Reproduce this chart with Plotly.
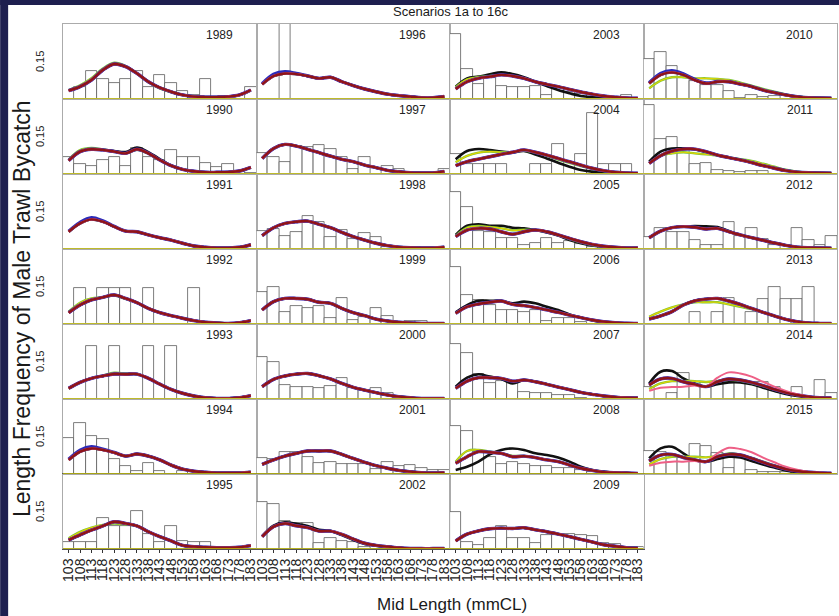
import plotly.graph_objects as go
from plotly.subplots import make_subplots

# ---------------- data ----------------
MIDS = [103, 108, 113, 118, 123, 128, 133, 138, 143, 148, 153, 158, 163, 168, 173, 178, 183]
TICK_LABELS = ["103", "108", "113", "118", "123", "128", "133", "138", "143",
               "148", "153", "158", "163", "168", "173", "178", "183"]
YEARS = [1989, 1990, 1991, 1992, 1993, 1994, 1995,
         1996, 1997, 1998, 1999, 2000, 2001, 2002,
         2003, 2004, 2005, 2006, 2007, 2008, 2009,
         2010, 2011, 2012, 2013, 2014, 2015]

# observed proportions (histogram bars)
OBS_1989 = [0, .055, .13, .092, .073, .092, .13, .055, .111, .073, .036, .017, .092, 0, 0, 0, .058]
OBS_1990 = [.081, .047, .039, .066, .081, .039, .12, .081, .066, .113, .081, .081, .05, .034, .047, .011, .006]
OBS_1991 = [0, 0, 0, 0, 0, 0, 0, 0, 0, 0, 0, 0, 0, 0, 0, 0, 0]
OBS_1992 = [0, .167, 0, .167, .167, .167, 0, .167, 0, 0, 0, .167, 0, 0, 0, 0, 0]
OBS_1993 = [0, 0, .25, 0, .25, 0, 0, .25, 0, .25, 0, 0, 0, 0, 0, 0, 0]
OBS_1994 = [.167, .238, .18, .163, .069, .038, .014, .05, .014, 0, .014, .014, 0, 0, 0, 0, 0]
OBS_1995 = [.031, .031, .031, .144, .108, .108, .18, .07, .034, .108, .039, .031, .031, 0, 0, 0, 0]
OBS_1996 = [0, 0, 1.0, 0, 0, 0, 0, 0, 0, 0, 0, 0, 0, 0, 0, 0, 0]
OBS_1997 = [.097, .078, .058, .131, .128, .136, .116, .078, .022, .078, 0, .039, .022, 0, 0, 0, .022]
OBS_1998 = [.086, .092, .063, .081, .156, .125, .055, .089, .047, .073, .055, .011, 0, 0, 0, 0, 0]
OBS_1999 = [.152, .172, .055, .086, .077, .086, .027, .123, .019, .034, .077, .039, 0, .016, .016, 0, 0]
OBS_2000 = [.198, .172, .066, .058, .058, .05, .063, .097, .053, .042, .053, .03, .011, 0, 0, 0, 0]
OBS_2001 = [.073, .07, .105, .105, .081, .05, .055, .045, .047, .047, .025, .055, .039, .042, .03, .019, .019]
OBS_2002 = [.222, .209, .13, .12, .12, .027, .05, .039, .031, .01, 0, 0, 0, 0, 0, 0, 0]
OBS_2003 = [.305, .139, .07, .097, .063, .058, .058, .063, .019, .05, .034, .023, 0, 0, 0, .019, 0]
OBS_2004 = [.094, .047, .047, .047, .047, 0, 0, .047, .047, .141, 0, .094, .284, .047, .047, .047, 0]
OBS_2005 = [.269, .195, .084, .081, .05, .05, .019, .027, .05, .027, .039, .022, .011, 0, 0, 0, 0]
OBS_2006 = [.269, .136, .113, .089, .066, .066, .058, .066, .016, .027, .027, .008, 0, 0, 0, 0, 0]
OBS_2007 = [.256, .214, .116, .073, .084, .081, .034, .03, .027, .019, .019, .006, 0, 0, 0, 0, 0]
OBS_2008 = [.227, .202, .105, .081, .045, .055, .045, .039, .039, .03, .03, .019, .008, 0, 0, 0, 0]
OBS_2009 = [.172, .034, .019, .05, .108, .05, .05, .027, .066, .066, .07, .066, .061, .03, .023, .011, .008]
OBS_2010 = [.186, .222, .156, .102, .086, .066, .066, .039, .003, .019, .011, .016, 0, 0, 0, 0, 0]
OBS_2011 = [.324, .164, .175, .12, .047, .053, .019, .014, .008, .014, .014, 0, 0, 0, 0, 0, 0]
OBS_2012 = [.058, .097, .081, .081, .042, .019, .019, .125, .061, .1, .047, .019, 0, .1, .042, .019, .061]
OBS_2013 = [0, 0, 0, 0, .055, 0, .055, .12, 0, .055, .117, .175, .117, .117, .175, 0, 0]
OBS_2014 = [.058, 0, .03, .12, .08, .08, .08, .08, .08, .08, .08, .058, 0, .058, 0, .089, .03]
OBS_2015 = [.11, .105, .09, .08, .14, .13, .1, .03, .075, .02, .01, .008, .008, .008, .005, .005, 0]

# fitted proportions (main scenario curve)
FIT_1989 = [.039, .058, .089, .136, .164, .152, .12, .081, .053, .034, .019, .011, .009, .009, .011, .019, .042]
FIT_1990 = [.063, .105, .116, .113, .105, .097, .116, .097, .066, .039, .022, .013, .008, .008, .009, .014, .031]
FIT_1991 = [.081, .12, .139, .128, .105, .084, .081, .066, .053, .042, .027, .014, .008, .005, .005, .008, .02]
FIT_1992 = [.053, .089, .113, .125, .136, .12, .1, .073, .053, .039, .027, .016, .008, .005, .003, .006, .016]
FIT_1993 = [.05, .078, .097, .108, .117, .116, .117, .097, .07, .045, .027, .014, .006, .003, .003, .006, .016]
FIT_1994 = [.066, .105, .12, .113, .1, .084, .094, .084, .066, .042, .023, .013, .008, .005, .005, .005, .009]
FIT_1995 = [.042, .066, .089, .108, .128, .12, .108, .081, .058, .038, .017, .011, .008, .006, .006, .008, .016]
FIT_1996 = [.069, .108, .12, .117, .108, .097, .102, .081, .063, .047, .034, .023, .016, .011, .006, .006, .012]
FIT_1997 = [.073, .12, .139, .131, .116, .1, .084, .069, .058, .042, .03, .017, .011, .006, .005, .005, .012]
FIT_1998 = [.063, .1, .12, .128, .131, .116, .1, .078, .058, .042, .027, .016, .009, .006, .005, .005, .009]
FIT_1999 = [.066, .105, .12, .12, .116, .102, .097, .073, .053, .039, .023, .014, .008, .005, .003, .002, .003]
FIT_2000 = [.058, .092, .108, .117, .12, .109, .094, .073, .055, .042, .03, .019, .011, .006, .003, .002, .003]
FIT_2001 = [.045, .066, .084, .097, .108, .108, .108, .092, .073, .055, .039, .027, .017, .011, .006, .005, .006]
FIT_2002 = [.058, .105, .12, .109, .1, .084, .084, .069, .047, .027, .017, .011, .006, .003, .002, .002, .002]
FIT_2003 = [.047, .081, .097, .105, .113, .108, .097, .081, .069, .058, .045, .033, .023, .014, .009, .005, .004]
FIT_2004 = [.039, .058, .07, .081, .092, .102, .113, .102, .089, .073, .058, .042, .027, .016, .008, .005, .004]
FIT_2005 = [.058, .089, .097, .094, .081, .069, .081, .089, .081, .066, .05, .034, .022, .013, .008, .005, .005]
FIT_2006 = [.05, .081, .094, .102, .108, .092, .086, .077, .066, .055, .042, .03, .019, .011, .006, .004, .003]
FIT_2007 = [.05, .084, .1, .1, .097, .084, .089, .081, .069, .056, .044, .031, .022, .014, .009, .006, .005]
FIT_2008 = [.05, .081, .105, .102, .097, .081, .084, .077, .066, .058, .042, .027, .017, .009, .006, .005, .003]
FIT_2009 = [.038, .07, .085, .095, .098, .096, .1, .09, .081, .07, .058, .045, .033, .02, .013, .006, .004]
FIT_2010 = [.073, .113, .125, .113, .089, .073, .081, .081, .07, .058, .042, .03, .019, .011, .006, .005, .004]
FIT_2011 = [.05, .086, .108, .117, .117, .105, .089, .077, .066, .053, .039, .027, .016, .009, .006, .005, .004]
FIT_2012 = [.053, .084, .1, .105, .102, .094, .097, .081, .066, .053, .041, .028, .017, .009, .006, .005, .004]
FIT_2013 = [.023, .038, .058, .089, .109, .117, .12, .108, .092, .073, .055, .038, .022, .011, .005, .003, .002]
FIT_2014 = [.066, .094, .097, .081, .069, .058, .081, .094, .089, .078, .063, .045, .03, .019, .011, .006, .005]
FIT_2015 = [.061, .089, .092, .077, .066, .058, .081, .092, .089, .073, .055, .038, .023, .014, .008, .005, .004]

# scenario curves that depart visibly from the main curve
BLACK_1990 = [.063, .105, .116, .113, .108, .103, .124, .103, .07, .04, .022, .013, .008, .008, .009, .014, .031]
BLACK_2002 = [.06, .11, .125, .118, .108, .09, .085, .065, .042, .024, .015, .009, .005, .003, .002, .002, .002]
BLACK_2003 = [.058, .097, .105, .116, .125, .117, .102, .081, .061, .042, .027, .014, .008, .005, .004, .003, .003]
BLACK_2004 = [.069, .108, .117, .113, .105, .102, .108, .092, .073, .053, .034, .019, .011, .006, .004, .003, .003]
BLACK_2005 = [.066, .109, .116, .109, .109, .1, .097, .089, .078, .063, .042, .027, .016, .009, .006, .004, .004]
BLACK_2006 = [.055, .089, .109, .109, .109, .097, .105, .097, .081, .066, .045, .03, .017, .009, .005, .003, .003]
BLACK_2007 = [.058, .1, .116, .105, .094, .073, .089, .081, .069, .056, .044, .031, .022, .014, .009, .006, .005]
BLACK_2008 = [.019, .034, .058, .092, .113, .12, .113, .097, .089, .077, .058, .034, .019, .011, .006, .005, .003]
BLACK_2011 = [.058, .105, .12, .12, .116, .102, .089, .077, .066, .053, .039, .027, .016, .009, .006, .005, .004]
BLACK_2012 = [.053, .084, .1, .105, .108, .106, .103, .084, .066, .053, .041, .028, .017, .009, .006, .005, .004]
BLACK_2014 = [.073, .128, .131, .097, .073, .058, .069, .078, .078, .069, .053, .038, .023, .014, .008, .005, .004]
BLACK_2015 = [.073, .12, .128, .097, .066, .058, .07, .081, .077, .061, .045, .03, .017, .009, .005, .004, .003]

GREEN_1989 = [.042, .064, .097, .143, .17, .155, .12, .079, .05, .032, .018, .011, .009, .009, .011, .018, .04]
GREEN_1990 = [.068, .112, .122, .115, .105, .097, .113, .095, .065, .039, .022, .013, .008, .008, .009, .014, .031]
GREEN_1992 = [.058, .1, .12, .125, .133, .118, .1, .073, .053, .039, .027, .016, .008, .005, .003, .006, .016]
GREEN_1993 = [.05, .078, .097, .11, .123, .12, .117, .097, .07, .045, .027, .014, .006, .003, .003, .006, .016]
GREEN_1995 = [.05, .08, .1, .113, .12, .115, .108, .081, .058, .038, .017, .011, .008, .006, .006, .008, .016]
GREEN_2003 = [.055, .092, .103, .108, .113, .108, .097, .081, .069, .058, .045, .033, .023, .014, .009, .005, .004]
GREEN_2004 = [.055, .085, .1, .105, .102, .102, .11, .1, .085, .068, .052, .037, .024, .014, .008, .005, .004]
GREEN_2005 = [.062, .1, .108, .103, .097, .088, .09, .089, .08, .065, .047, .031, .019, .011, .007, .005, .005]
GREEN_2008 = [.058, .108, .113, .105, .097, .085, .085, .077, .066, .058, .042, .027, .017, .009, .006, .005, .003]
GREEN_2010 = [.05, .086, .102, .102, .097, .097, .094, .089, .077, .063, .047, .034, .022, .012, .007, .005, .004]
GREEN_2011 = [.05, .086, .097, .102, .097, .092, .086, .078, .07, .061, .048, .034, .02, .011, .006, .005, .004]
GREEN_2013 = [.034, .058, .078, .092, .102, .102, .102, .092, .081, .07, .055, .038, .022, .011, .005, .003, .002]
GREEN_2014 = [.047, .073, .084, .084, .084, .08, .085, .09, .085, .075, .06, .044, .029, .018, .01, .006, .005]
GREEN_2015 = [.045, .07, .081, .081, .081, .078, .085, .097, .09, .076, .058, .04, .025, .015, .008, .005, .004]

BLUE_1991 = [.083, .125, .147, .132, .106, .084, .081, .066, .053, .042, .027, .014, .008, .005, .005, .008, .02]
BLUE_1994 = [.069, .112, .128, .117, .101, .084, .094, .084, .066, .042, .023, .013, .008, .005, .005, .005, .009]
BLUE_1996 = [.072, .116, .128, .12, .108, .097, .102, .081, .063, .047, .034, .023, .016, .011, .006, .006, .012]
BLUE_2010 = [.076, .12, .133, .118, .092, .075, .082, .081, .07, .058, .042, .03, .019, .011, .006, .005, .004]

PINK_2014 = [.038, .053, .056, .058, .063, .058, .1, .125, .12, .105, .081, .058, .038, .022, .011, .006, .005]
PINK_2015 = [.039, .053, .058, .058, .061, .058, .097, .123, .117, .102, .077, .055, .034, .02, .01, .006, .004]

OBS = {1989: OBS_1989, 1990: OBS_1990, 1991: OBS_1991, 1992: OBS_1992, 1993: OBS_1993,
       1994: OBS_1994, 1995: OBS_1995, 1996: OBS_1996, 1997: OBS_1997, 1998: OBS_1998,
       1999: OBS_1999, 2000: OBS_2000, 2001: OBS_2001, 2002: OBS_2002, 2003: OBS_2003,
       2004: OBS_2004, 2005: OBS_2005, 2006: OBS_2006, 2007: OBS_2007, 2008: OBS_2008,
       2009: OBS_2009, 2010: OBS_2010, 2011: OBS_2011, 2012: OBS_2012, 2013: OBS_2013,
       2014: OBS_2014, 2015: OBS_2015}
FIT = {1989: FIT_1989, 1990: FIT_1990, 1991: FIT_1991, 1992: FIT_1992, 1993: FIT_1993,
       1994: FIT_1994, 1995: FIT_1995, 1996: FIT_1996, 1997: FIT_1997, 1998: FIT_1998,
       1999: FIT_1999, 2000: FIT_2000, 2001: FIT_2001, 2002: FIT_2002, 2003: FIT_2003,
       2004: FIT_2004, 2005: FIT_2005, 2006: FIT_2006, 2007: FIT_2007, 2008: FIT_2008,
       2009: FIT_2009, 2010: FIT_2010, 2011: FIT_2011, 2012: FIT_2012, 2013: FIT_2013,
       2014: FIT_2014, 2015: FIT_2015}
BLACK = {1990: BLACK_1990, 2002: BLACK_2002, 2003: BLACK_2003, 2004: BLACK_2004,
         2005: BLACK_2005, 2006: BLACK_2006, 2007: BLACK_2007, 2008: BLACK_2008,
         2011: BLACK_2011, 2012: BLACK_2012, 2014: BLACK_2014, 2015: BLACK_2015}
GREEN = {1989: GREEN_1989, 1990: GREEN_1990, 1992: GREEN_1992, 1993: GREEN_1993,
         1995: GREEN_1995, 2003: GREEN_2003, 2004: GREEN_2004, 2005: GREEN_2005,
         2008: GREEN_2008, 2010: GREEN_2010, 2011: GREEN_2011, 2013: GREEN_2013,
         2014: GREEN_2014, 2015: GREEN_2015}
BLUE = {1991: BLUE_1991, 1994: BLUE_1994, 1996: BLUE_1996, 2010: BLUE_2010}
PINK = {2014: PINK_2014, 2015: PINK_2015}

# ---------------- layout constants ----------------
W, H = 839, 616
ML, MR, MT, MB = 63, 0, 24, 67
PW, PH = W - ML - MR, H - MT - MB
NAVY = "#1e1f4f"
FONT = "Liberation Sans"
BORDER = "#ababab"

fig = make_subplots(rows=7, cols=4, horizontal_spacing=0, vertical_spacing=0)


def axis_names(row, col):
    idx = (row - 1) * 4 + col
    return ("x" if idx == 1 else f"x{idx}"), ("y" if idx == 1 else f"y{idx}")


for k, year in enumerate(YEARS):
    col = k // 7 + 1
    row = k % 7 + 1
    main = FIT[year]
    fig.add_trace(go.Bar(x=MIDS, y=OBS[year], width=5,
                         marker=dict(color="white", line=dict(color="#5a5a5a", width=0.8))),
                  row=row, col=col)
    series = [
        (BLACK.get(year, main), "#111111", 2.6),
        (GREEN.get(year, main), "#78c43a", 2.4),
        (GREEN.get(year, main), "#e3d400", 1.2),
        (BLUE.get(year, main), "#2b2bb8", 3.4),
        (main, "#7a3aa0", 2.9),
        (PINK.get(year, main), "#ee5f86", 2.0),
        (main, "#8e1418", 2.4),
    ]
    for ys, color, w in series:
        fig.add_trace(go.Scatter(x=MIDS, y=ys, mode="lines",
                                 line=dict(color=color, width=w, shape="spline", smoothing=1.0)),
                      row=row, col=col)
    fig.add_hline(y=0, line=dict(color="#c4bf00", width=1.4), row=row, col=col)
    xa, ya = axis_names(row, col)
    fig.add_annotation(text=str(year), xref=f"{xa} domain", yref=f"{ya} domain",
                       x=0.807, y=0.857, showarrow=False, xanchor="center", yanchor="middle",
                       font=dict(family=FONT, size=12, color="#222222"))

# axes
for row in range(1, 8):
    for col in range(1, 5):
        empty = (row == 7 and col == 4)
        bottom = (row == 7)
        xkw = dict(range=[100.5, 185.5], showgrid=False, zeroline=False,
                   showline=True, mirror=not empty, linecolor=BORDER, linewidth=1,
                   tickvals=MIDS, ticktext=TICK_LABELS, layer="below traces")
        if bottom:
            xkw.update(showticklabels=True, ticks="outside", ticklen=3, tickcolor="#333333",
                       tickangle=-90, linecolor="#555555",
                       tickfont=dict(family=FONT, size=14, color="#222222"))
        else:
            xkw.update(showticklabels=False, ticks="")
        fig.update_xaxes(row=row, col=col, **xkw)
        ykw = dict(range=[0, 0.352], showgrid=False, zeroline=False,
                   showline=True, mirror=True, linecolor=BORDER, linewidth=1,
                   tickvals=[0.15], ticktext=["0.15"], ticks="", layer="below traces")
        if col == 1:
            ykw.update(showticklabels=True, tickangle=-90, ticklabelstandoff=14,
                       ticklabelshift=-4, tickfont=dict(family=FONT, size=11, color="#222222"))
        else:
            ykw.update(showticklabels=False)
        if empty:
            ykw.update(visible=False)
        fig.update_yaxes(row=row, col=col, **ykw)

# titles
fig.add_annotation(text="Scenarios 1a to 16c", xref="paper", yref="paper",
                   x=(451 - ML) / PW, y=1 + 12 / PH, showarrow=False,
                   xanchor="center", yanchor="middle",
                   font=dict(family=FONT, size=13, color="#1a1a1a"))
fig.add_annotation(text="Mid Length (mmCL)", xref="paper", yref="paper",
                   x=(453 - ML) / PW, y=-(604 - (H - MB)) / PH, showarrow=False,
                   xanchor="center", yanchor="middle",
                   font=dict(family=FONT, size=17, color="#1a1a1a"))
fig.add_annotation(text="Length Frequency of Male Trawl Bycatch", xref="paper", yref="paper",
                   x=(22 - ML) / PW, y=((H - MB) - 309) / PH, showarrow=False, textangle=-90,
                   xanchor="center", yanchor="middle",
                   font=dict(family=FONT, size=23, color="#1a1a1a"))

# dark slide frame (left and top strips)
fig.add_shape(type="rect", xref="paper", yref="paper", x0=-ML / PW, x1=(8 - ML) / PW,
              y0=-MB / PH, y1=1 + MT / PH, fillcolor=NAVY, line=dict(width=0), layer="above")
fig.add_shape(type="rect", xref="paper", yref="paper", x0=-ML / PW, x1=1.01,
              y0=1 + (MT - 5) / PH, y1=1 + MT / PH, fillcolor=NAVY, line=dict(width=0), layer="above")

fig.update_layout(width=W, height=H, margin=dict(l=ML, r=MR, t=MT, b=MB),
                  paper_bgcolor="white", plot_bgcolor="white", showlegend=False,
                  bargap=0, font=dict(family=FONT))

fig.write_html("out.html")
